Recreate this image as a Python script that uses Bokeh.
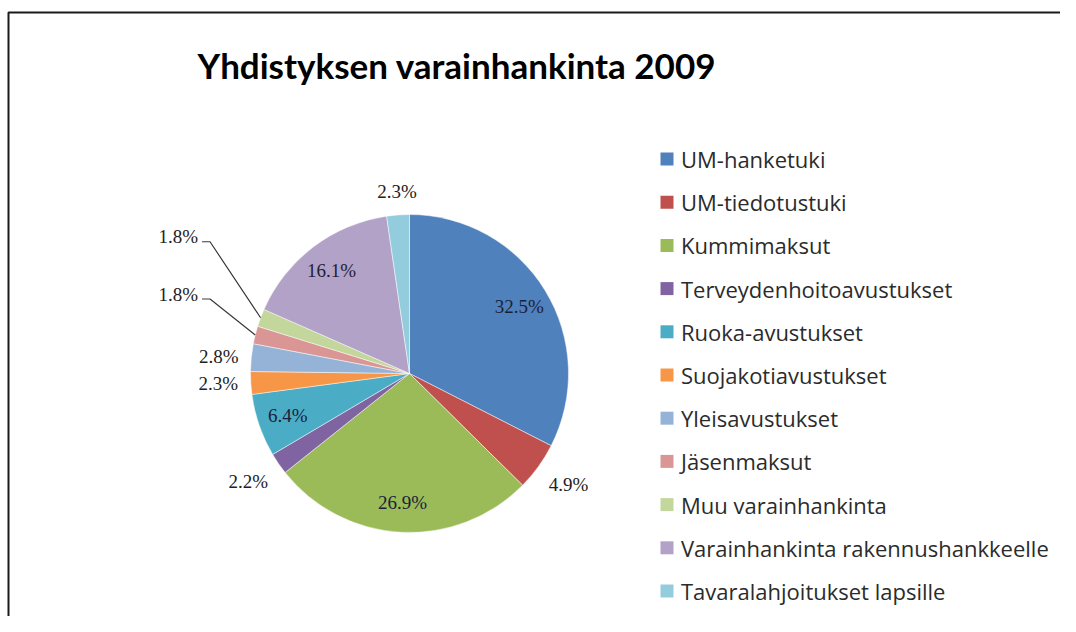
import math
from bokeh.plotting import figure
from bokeh.models import Range1d, ColumnDataSource
from bokeh.embed import file_html
from bokeh.resources import INLINE
from bokeh.core.properties import value

# ---------------- data ----------------
title_text = "Yhdistyksen varainhankinta 2009"
categories = [
    "UM-hanketuki",
    "UM-tiedotustuki",
    "Kummimaksut",
    "Terveydenhoitoavustukset",
    "Ruoka-avustukset",
    "Suojakotiavustukset",
    "Yleisavustukset",
    "Jäsenmaksut",
    "Muu varainhankinta",
    "Varainhankinta rakennushankkeelle",
    "Tavaralahjoitukset lapsille",
]
percents = [32.5, 4.9, 26.9, 2.2, 6.4, 2.3, 2.8, 1.8, 1.8, 16.1, 2.3]
colors = ["#4F81BD", "#C0504D", "#9BBB59", "#8064A2", "#4BACC6", "#F79646",
          "#95B3D7", "#D99694", "#C3D69B", "#B3A2C7", "#93CDDD"]

# ---------------- layout (pixel space of the picture) ----------------
W, H = 1060, 616
def px(X):
    return X
def py(Y):
    return H - Y

CX, CY, R = px(409), py(373), 159
INSIDE_MIN = 5.0          # values above this are labelled inside the slice
INSIDE_K = 0.81
OUTSIDE_K = 1.08
# labels that were moved away from their slice (with leader lines), in R units
MOVED = {7: (-1.33, 0.50), 8: (-1.33, 0.86)}

p = figure(width=W, height=H, x_range=Range1d(0, W), y_range=Range1d(0, H),
           output_backend="svg", toolbar_location=None, min_border=0)
p.axis.visible = False
p.grid.visible = False
p.outline_line_color = None
p.background_fill_color = "#FFFFFF"
p.border_fill_color = "#FFFFFF"

# frame (left + top edges visible)
p.line(x=[px(8), px(8), W], y=[0, py(12), py(12)], line_color="#1a1a1a", line_width=2)

# title
p.text(x=[px(197)], y=[py(64)], text=[title_text], text_font=value("Lato"),
       text_font_style="bold", text_font_size="35px", text_baseline="alphabetic",
       text_align="left", text_color="#000000")

# wedges
total = sum(percents)
starts, ends, mids = [], [], []
cum = 0.0
for v in percents:
    a0 = math.pi / 2 - 2 * math.pi * cum / total
    cum += v
    a1 = math.pi / 2 - 2 * math.pi * cum / total
    starts.append(a0)
    ends.append(a1)
    mids.append((a0 + a1) / 2)

src = ColumnDataSource(dict(start=starts, end=ends, color=colors, cat=categories))
p.wedge(x=CX, y=CY, radius=R, start_angle="start", end_angle="end",
        direction="clock", fill_color="color", line_color="#FFFFFF",
        line_alpha=0.6, line_width=0.8, source=src)

# data labels
lab_font = value("Liberation Serif")
for i, v in enumerate(percents):
    t = f"{v:.1f}%"
    c, s = math.cos(mids[i]), math.sin(mids[i])
    if v > INSIDE_MIN:
        p.text(x=[CX + INSIDE_K * R * c], y=[CY + INSIDE_K * R * s], text=[t],
               text_font=lab_font, text_font_size="19px", text_align="center",
               text_baseline="middle", text_color="#1c1f3a")
    elif i in MOVED:
        lx, ly = MOVED[i]
        tx, ty = CX + lx * R, CY + ly * R
        p.text(x=[tx], y=[ty], text=[t], text_font=lab_font, text_font_size="19px",
               text_align="right", text_baseline="middle", text_color="#222222")
        ex, ey = CX + R * c, CY + R * s
        p.line(x=[tx + 4, tx + 12, ex], y=[ty - 5, ty - 5, ey],
               line_color="#3a3a3a", line_width=1.2)
    else:
        ax, ay = CX + OUTSIDE_K * R * c, CY + OUTSIDE_K * R * s
        align = "left" if c > 0.3 else ("right" if c < -0.3 else "center")
        base = "bottom" if s > 0.3 else ("top" if s < -0.3 else "middle")
        p.text(x=[ax], y=[ay], text=[t], text_font=lab_font, text_font_size="19px",
               text_align=align, text_baseline=base, text_color="#222222")

# legend
LEG_X, LEG_Y0, LEG_DY, SQ = px(666.5), py(158.5), 43.2, 13
ly = [LEG_Y0 - i * LEG_DY for i in range(len(categories))]
p.rect(x=[LEG_X] * len(categories), y=ly, width=SQ, height=SQ,
       fill_color=colors, line_color=None)
p.text(x=[LEG_X + 14] * len(categories), y=ly, text=categories,
       text_font=value("Open Sans"), text_font_size="22px",
       text_baseline="middle", text_align="left", text_color="#2b2b2b")

open("out.html", "w").write(file_html(p, INLINE))
